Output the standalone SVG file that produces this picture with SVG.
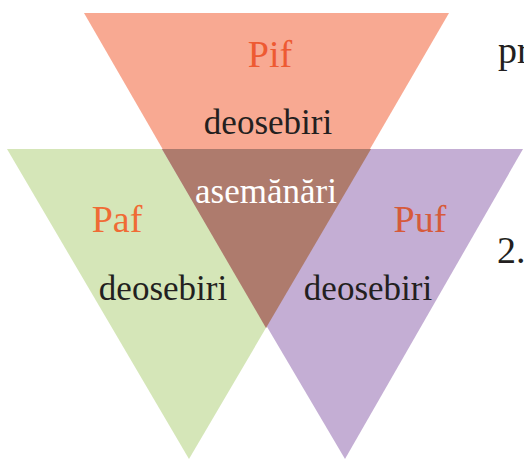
<svg xmlns="http://www.w3.org/2000/svg" width="524" height="459" viewBox="0 0 524 459">
<style>
text{font-family:"Liberation Serif","Times New Roman",serif;}
.lbl{font-size:38px;text-anchor:middle;}
.txt{font-size:35px;fill:#231F20;text-anchor:middle;}
.side{font-size:38px;fill:#231F20;}
</style>
<rect width="524" height="459" fill="#fff"/>
<g id="pif">
<polygon points="84,13 449,13 266,328" fill="#F8A992"/>
<text class="lbl" x="270" y="67" fill="#EE5A32">Pif</text>
<text class="txt" x="268" y="134">deosebiri</text>
</g>
<g id="paf">
<polygon points="7,149 371,149 189,459" fill="#D5E6B8"/>
<text class="lbl" x="117" y="232" fill="#F06B35">Paf</text>
<text class="txt" x="163" y="300">deosebiri</text>
</g>
<g id="puf">
<polygon points="162,149 523,149 345,459" fill="#C4AED4"/>
<text class="lbl" x="420" y="232" fill="#D65A3A">Puf</text>
<text class="txt" x="368" y="300">deosebiri</text>
</g>
<g id="asemanari">
<polygon points="162,149 371,149 266,328" fill="#AE7B6D"/>
<text class="txt" x="266" y="203" fill="#fff" style="fill:#fff">asemănări</text>
</g>
<text class="side" x="498" y="63">pr</text>
<text class="side" x="497" y="263">2.</text>
</svg>
